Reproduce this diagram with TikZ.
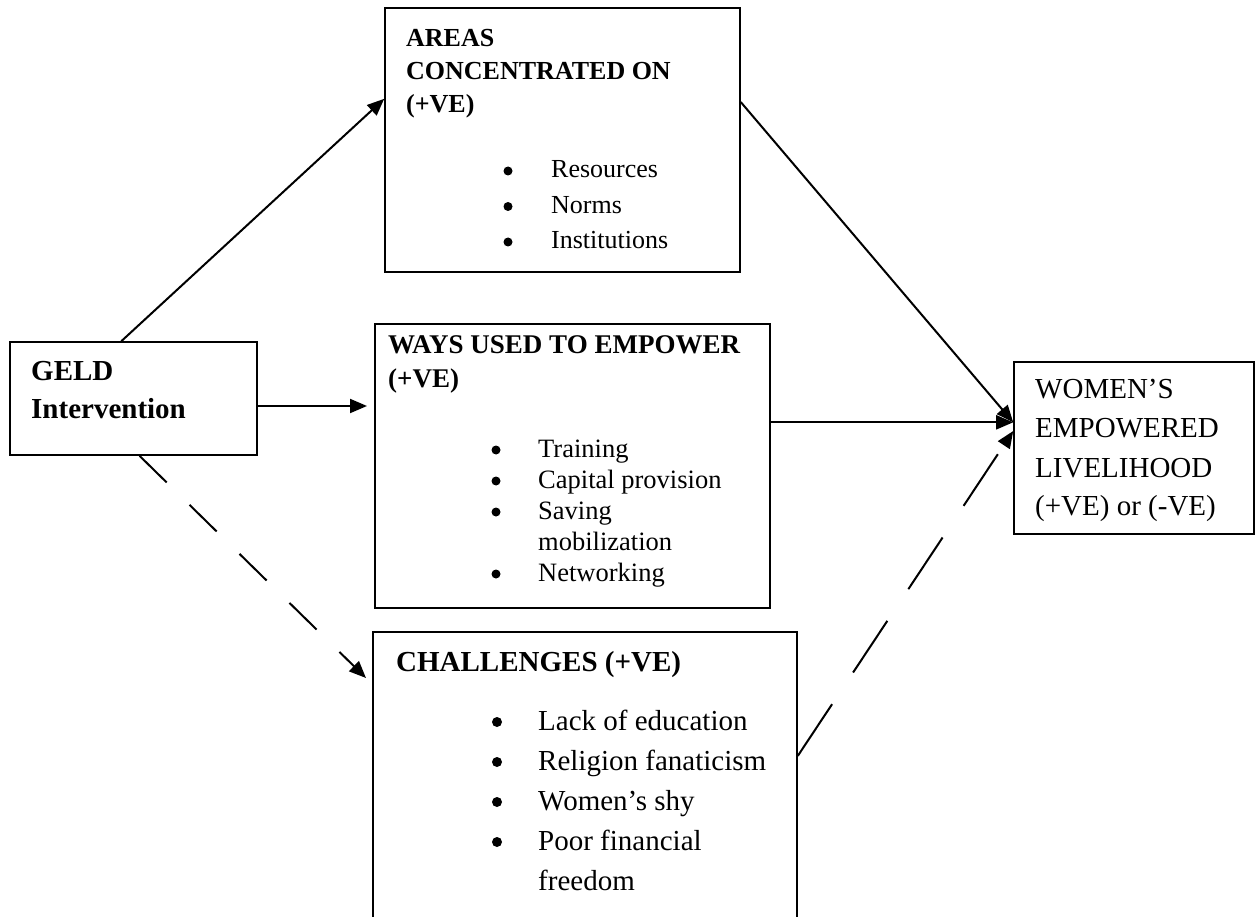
\documentclass[tikz,border=0pt]{standalone}
\usepackage{fontspec}
\setmainfont{Liberation Serif}
\usetikzlibrary{arrows.meta}

\begin{document}
\begin{tikzpicture}[x=1pt, y=-1pt,
    box/.style={draw, line width=1.6pt, inner sep=0pt},
    txt/.style={anchor=base west, inner sep=0pt},
    dot/.style={circle, fill, inner sep=0pt, minimum size=9pt},
    arr/.style={line width=2pt, -{Triangle[length=17pt,width=14pt]}},
    darrA/.style={arr, dash pattern=on 38pt off 32pt},
    darrB/.style={arr, dash pattern=on 62pt off 38pt}]
    \useasboundingbox (0,0) rectangle (1258,917);

    % boxes
    \node[box, minimum width=247pt, minimum height=113pt] (geld) at (133.5,398.5) {};
    \node[box, minimum width=355pt, minimum height=264pt] (areas) at (562.5,140) {};
    \node[box, minimum width=395pt, minimum height=284pt] (ways) at (572.5,466) {};
    \node[box, minimum width=424pt, minimum height=300pt] (chall) at (585,782) {};
    \node[box, minimum width=240pt, minimum height=172pt] (women) at (1134,448) {};

    % GELD
    \node[txt, font=\fontsize{29}{34}\selectfont\bfseries] (geldA) at (31,380) {GELD};
    \node[txt, font=\fontsize{29}{34}\selectfont\bfseries] (geldB) at (31,418) {Intervention};

    % areas
    \node[txt, font=\fontsize{26}{31}\selectfont\bfseries] (areasA) at (406,47) {AREAS};
    \node[txt, font=\fontsize{26}{31}\selectfont\bfseries] (areasB) at (406,80) {CONCENTRATED ON};
    \node[txt, font=\fontsize{26}{31}\selectfont\bfseries] (areasC) at (406,113) {(+VE)};
    \node[dot] (areasD1) at (508,171) {};
    \node[txt, font=\fontsize{26}{31}\selectfont] (areasT1) at (551,178) {Resources};
    \node[dot] (areasD2) at (508,206.5) {};
    \node[txt, font=\fontsize{26}{31}\selectfont] (areasT2) at (551,213.5) {Norms};
    \node[dot] (areasD3) at (508,242) {};
    \node[txt, font=\fontsize{26}{31}\selectfont] (areasT3) at (551,249) {Institutions};

    % ways
    \node[txt, font=\fontsize{27}{32}\selectfont\bfseries] (waysA) at (388,353) {WAYS USED TO EMPOWER};
    \node[txt, font=\fontsize{27}{32}\selectfont\bfseries] (waysB) at (388,387) {(+VE)};
    \node[dot] (waysD1) at (496,450) {};
    \node[txt, font=\fontsize{26.5}{31}\selectfont] (waysT1) at (538,457) {Training};
    \node[dot] (waysD2) at (496,481) {};
    \node[txt, font=\fontsize{26.5}{31}\selectfont] (waysT2) at (538,488) {Capital provision};
    \node[dot] (waysD3) at (496,512) {};
    \node[txt, font=\fontsize{26.5}{31}\selectfont] (waysT3) at (538,519) {Saving};
    \node[txt, font=\fontsize{26.5}{31}\selectfont] (waysT3b) at (538,550) {mobilization};
    \node[dot] (waysD4) at (496,574) {};
    \node[txt, font=\fontsize{26.5}{31}\selectfont] (waysT4) at (538,581) {Networking};

    % challenges
    \node[txt, font=\fontsize{29}{34}\selectfont\bfseries] (challA) at (396,671) {CHALLENGES (+VE)};
    \node[dot, minimum size=10pt] (challD1) at (497,722) {};
    \node[txt, font=\fontsize{29}{34}\selectfont] (challT1) at (538,730) {Lack of education};
    \node[dot, minimum size=10pt] (challD2) at (497,762) {};
    \node[txt, font=\fontsize{29}{34}\selectfont] (challT2) at (538,770) {Religion fanaticism};
    \node[dot, minimum size=10pt] (challD3) at (497,802) {};
    \node[txt, font=\fontsize{29}{34}\selectfont] (challT3) at (538,810) {Women’s shy};
    \node[dot, minimum size=10pt] (challD4) at (497,842) {};
    \node[txt, font=\fontsize{29}{34}\selectfont] (challT4) at (538,850) {Poor financial};
    \node[txt, font=\fontsize{29}{34}\selectfont] (challT4b) at (538,890) {freedom};

    % women
    \node[txt, font=\fontsize{29}{34}\selectfont] (womenA) at (1035,398) {WOMEN’S};
    \node[txt, font=\fontsize{29}{34}\selectfont] (womenB) at (1035,437) {EMPOWERED};
    \node[txt, font=\fontsize{29}{34}\selectfont] (womenC) at (1035,477) {LIVELIHOOD};
    \node[txt, font=\fontsize{29}{34}\selectfont] (womenD) at (1035,515) {(+VE) or (-VE)};

    % arrows
    \coordinate (waysin) at (367,406);
    \coordinate (challin) at (366,678);
    \draw[arr] (geld.102.6) -- (areas.167.9);
    \draw[arr] (geld.east |- waysin) -- (waysin);
    \draw[darrA] (geld.-84) -- (challin);
    \draw[arr] (areas.12.7) -- (women.168.7);
    \draw[arr] (ways.east |- women.168.7) -- (women.168.7);
    \draw[darrB] (chall.7) -- (women.172.4);
\end{tikzpicture}
\end{document}
